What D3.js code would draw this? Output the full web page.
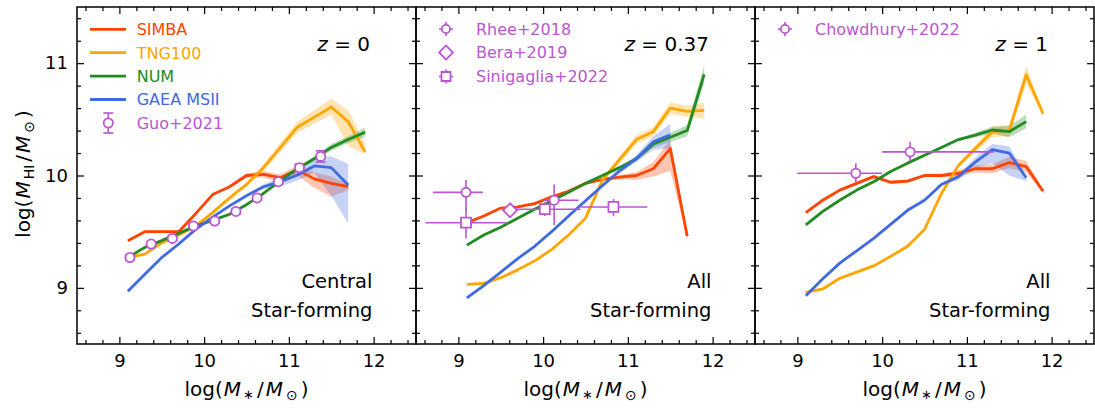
<!DOCTYPE html>
<html>
<head>
<meta charset="utf-8">
<script src="https://cdn.jsdelivr.net/npm/d3@7/dist/d3.min.js"></script>
<style>
html,body{margin:0;padding:0;background:#fff;}
svg{display:block;}
text{font-family:"DejaVu Sans",sans-serif;}
</style>
</head>
<body>
<svg id="chart" width="1095" height="408"></svg>
<script>
// ================= DATA =================
const logMstar = [9.1, 9.3, 9.5, 9.7, 9.9, 10.1, 10.3, 10.5, 10.7, 10.9, 11.1, 11.3, 11.5, 11.7, 11.9];
const xTicks = [9, 10, 11, 12];
const yTicks = [9, 10, 11];
const modelNames = ["SIMBA", "TNG100", "NUM", "GAEA MSII"];
const redshiftLabels = ["0", "0.37", "1"];
const sampleLabels = [["Central", "Star-forming"], ["All", "Star-forming"], ["All", "Star-forming"]];

// ---- z = 0 ----
const z0_simba    = [9.42, 9.50, 9.50, 9.50, 9.66, 9.83, 9.90, 10.00, 10.01, 9.98, 10.05, 9.97, 9.93, 9.90];
const z0_simba_lo = [0.01, 0.01, 0.01, 0.01, 0.01, 0.01, 0.01, 0.02, 0.03, 0.04, 0.05, 0.08, 0.12, 0.03];
const z0_simba_hi = [0.01, 0.01, 0.01, 0.01, 0.01, 0.01, 0.01, 0.02, 0.03, 0.03, 0.04, 0.06, 0.06, 0.02];
const z0_tng      = [9.27, 9.30, 9.40, 9.47, 9.55, 9.67, 9.80, 9.92, 10.07, 10.25, 10.43, 10.52, 10.61, 10.48, 10.21];
const z0_tng_lo   = [0.01, 0.01, 0.01, 0.01, 0.01, 0.01, 0.02, 0.02, 0.03, 0.04, 0.05, 0.06, 0.07, 0.22, 0.02];
const z0_tng_hi   = [0.01, 0.01, 0.01, 0.01, 0.01, 0.01, 0.02, 0.02, 0.03, 0.04, 0.05, 0.06, 0.07, 0.10, 0.07];
const z0_num      = [9.27, 9.36, 9.42, 9.485, 9.55, 9.60, 9.655, 9.74, 9.84, 9.955, 10.06, 10.15, 10.25, 10.32, 10.385];
const z0_num_lo   = [0.01, 0.01, 0.01, 0.01, 0.01, 0.01, 0.01, 0.01, 0.01, 0.01, 0.02, 0.02, 0.03, 0.03, 0.04];
const z0_num_hi   = [0.01, 0.01, 0.01, 0.01, 0.01, 0.01, 0.01, 0.01, 0.01, 0.01, 0.02, 0.02, 0.03, 0.03, 0.04];
const z0_gaea     = [8.97, 9.12, 9.27, 9.39, 9.52, 9.63, 9.73, 9.82, 9.90, 9.945, 10.005, 10.085, 10.07, 9.915];
const z0_gaea_lo  = [0.01, 0.01, 0.01, 0.01, 0.01, 0.01, 0.01, 0.01, 0.02, 0.04, 0.05, 0.06, 0.25, 0.34];
const z0_gaea_hi  = [0.01, 0.01, 0.01, 0.01, 0.01, 0.01, 0.01, 0.01, 0.02, 0.04, 0.06, 0.08, 0.10, 0.19];
// Guo+2021
const guo_x   = [9.125, 9.375, 9.625, 9.875, 10.125, 10.375, 10.625, 10.875, 11.125, 11.375];
const guo_y   = [9.27, 9.39, 9.44, 9.55, 9.595, 9.68, 9.80, 9.945, 10.07, 10.17];
const guo_err = [0.02, 0.02, 0.02, 0.02, 0.02, 0.02, 0.02, 0.02, 0.03, 0.05];

// ---- z = 0.37 ----
const z037_simba    = [9.58, 9.64, 9.71, 9.72, 9.75, 9.81, 9.86, 9.93, 9.965, 9.985, 10.00, 10.06, 10.24, 9.46];
const z037_simba_lo = [0.01, 0.01, 0.01, 0.01, 0.01, 0.01, 0.01, 0.01, 0.01, 0.02, 0.04, 0.07, 0.20, 0.02];
const z037_simba_hi = [0.01, 0.01, 0.01, 0.01, 0.01, 0.01, 0.01, 0.01, 0.01, 0.02, 0.03, 0.06, 0.08, 0.02];
const z037_tng      = [9.03, 9.04, 9.09, 9.16, 9.24, 9.34, 9.47, 9.62, 9.96, 10.14, 10.32, 10.39, 10.60, 10.57, 10.58];
const z037_tng_lo   = [0.01, 0.01, 0.01, 0.01, 0.01, 0.01, 0.01, 0.01, 0.02, 0.03, 0.04, 0.04, 0.05, 0.05, 0.07];
const z037_tng_hi   = [0.01, 0.01, 0.01, 0.01, 0.01, 0.01, 0.01, 0.01, 0.02, 0.03, 0.04, 0.04, 0.05, 0.05, 0.07];
const z037_num      = [9.38, 9.47, 9.54, 9.62, 9.70, 9.775, 9.85, 9.93, 10.00, 10.07, 10.15, 10.28, 10.34, 10.40, 10.90];
const z037_num_lo   = [0.01, 0.01, 0.01, 0.01, 0.01, 0.01, 0.01, 0.01, 0.01, 0.01, 0.02, 0.03, 0.04, 0.05, 0.08];
const z037_num_hi   = [0.01, 0.01, 0.01, 0.01, 0.01, 0.01, 0.01, 0.01, 0.01, 0.01, 0.02, 0.03, 0.04, 0.05, 0.08];
const z037_gaea     = [8.91, 9.02, 9.14, 9.26, 9.37, 9.50, 9.64, 9.775, 9.91, 10.04, 10.15, 10.30, 10.36];
const z037_gaea_lo  = [0.01, 0.01, 0.01, 0.01, 0.01, 0.01, 0.01, 0.01, 0.01, 0.02, 0.03, 0.07, 0.12];
const z037_gaea_hi  = [0.01, 0.01, 0.01, 0.01, 0.01, 0.01, 0.01, 0.01, 0.01, 0.02, 0.03, 0.05, 0.10];
// Rhee+2018
const rhee_x = [9.09, 10.13], rhee_y = [9.85, 9.78];
const rhee_xlo = [0.39, 0.13], rhee_xhi = [0.20, 0.29];
const rhee_ylo = [0.15, 0.22], rhee_yhi = [0.11, 0.14];
// Bera+2019
const bera_x = [9.61], bera_y = [9.69];
// Sinigaglia+2022
const sini_x = [9.09, 10.02, 10.83], sini_y = [9.58, 9.70, 9.72];
const sini_xlo = [0.48, 0.41, 0.39], sini_xhi = [0.48, 0.42, 0.40];
const sini_ylo = [0.14, 0.06, 0.08], sini_yhi = [0.13, 0.06, 0.07];

// ---- z = 1 ----
const z1_simba    = [9.67, 9.78, 9.87, 9.93, 9.99, 9.94, 9.95, 10.00, 10.00, 10.02, 10.06, 10.06, 10.115, 10.08, 9.86];
const z1_simba_lo = [0.015, 0.015, 0.015, 0.015, 0.015, 0.015, 0.015, 0.015, 0.015, 0.03, 0.03, 0.04, 0.05, 0.05, 0.02];
const z1_simba_hi = [0.015, 0.015, 0.015, 0.015, 0.015, 0.015, 0.015, 0.015, 0.015, 0.03, 0.03, 0.04, 0.05, 0.05, 0.02];
const z1_tng      = [8.96, 8.99, 9.085, 9.14, 9.195, 9.28, 9.37, 9.52, 9.84, 10.09, 10.24, 10.39, 10.40, 10.895, 10.55];
const z1_tng_lo   = [0.01, 0.01, 0.01, 0.01, 0.01, 0.01, 0.01, 0.01, 0.01, 0.02, 0.03, 0.05, 0.05, 0.08, 0.02];
const z1_tng_hi   = [0.01, 0.01, 0.01, 0.01, 0.01, 0.01, 0.01, 0.01, 0.01, 0.02, 0.03, 0.05, 0.05, 0.08, 0.02];
const z1_num      = [9.56, 9.68, 9.78, 9.87, 9.945, 10.035, 10.11, 10.18, 10.25, 10.32, 10.36, 10.405, 10.39, 10.48];
const z1_num_lo   = [0.01, 0.01, 0.01, 0.01, 0.01, 0.01, 0.01, 0.01, 0.01, 0.01, 0.02, 0.03, 0.05, 0.06];
const z1_num_hi   = [0.01, 0.01, 0.01, 0.01, 0.01, 0.01, 0.01, 0.01, 0.01, 0.01, 0.02, 0.03, 0.05, 0.06];
const z1_gaea     = [8.93, 9.08, 9.22, 9.33, 9.44, 9.565, 9.69, 9.78, 9.92, 9.99, 10.12, 10.23, 10.20, 9.98];
const z1_gaea_lo  = [0.01, 0.01, 0.01, 0.01, 0.01, 0.01, 0.01, 0.01, 0.01, 0.03, 0.05, 0.12, 0.20, 0.03];
const z1_gaea_hi  = [0.01, 0.01, 0.01, 0.01, 0.01, 0.01, 0.01, 0.01, 0.01, 0.02, 0.04, 0.05, 0.06, 0.02];
// Chowdhury+2022
const chow_x = [9.69, 10.33], chow_y = [10.02, 10.21];
const chow_xlo = [0.69, 0.33], chow_xhi = [0.31, 0.99];
const chow_ylo = [0.08, 0.08], chow_yhi = [0.09, 0.09];

// ================= LAYOUT / STYLE =================
const svg = d3.select("#chart");
const panelLefts = [77, 416, 755];
const panelW = 339, plotTop = 7, plotBottom = 344;
const modelColors = ["#ff4500", "#ffa500", "#228b22", "#4169e1"];
const obsColor = "#ba55d3";
const FONT = "DejaVu Sans";

const y = d3.scaleLinear().domain([8.5, 11.5]).range([plotBottom, plotTop]);
const minorX = d3.range(43, 63).filter(i => i % 5 !== 0).map(i => i / 5);
const minorY = d3.range(43, 58).filter(i => i % 5 !== 0).map(i => i / 5);

const panelModels = [
  [[z0_simba, z0_simba_lo, z0_simba_hi], [z0_tng, z0_tng_lo, z0_tng_hi], [z0_num, z0_num_lo, z0_num_hi], [z0_gaea, z0_gaea_lo, z0_gaea_hi]],
  [[z037_simba, z037_simba_lo, z037_simba_hi], [z037_tng, z037_tng_lo, z037_tng_hi], [z037_num, z037_num_lo, z037_num_hi], [z037_gaea, z037_gaea_lo, z037_gaea_hi]],
  [[z1_simba, z1_simba_lo, z1_simba_hi], [z1_tng, z1_tng_lo, z1_tng_hi], [z1_num, z1_num_lo, z1_num_hi], [z1_gaea, z1_gaea_lo, z1_gaea_hi]]
];

function styleAxis(g, fs) {
  g.select(".domain").remove();
  g.attr("font-family", FONT).attr("font-size", fs);
  g.selectAll("line").attr("stroke", "#000").attr("stroke-width", 1.2);
  g.selectAll("text").attr("fill", "#000");
}

function errBars(g, x, xs, ys, xlo, xhi, ylo, yhi, cap) {
  xs.forEach((xv, i) => {
    if (xlo) g.append("line").attr("x1", x(xv - xlo[i])).attr("x2", x(xv + xhi[i]))
      .attr("y1", y(ys[i])).attr("y2", y(ys[i]));
    if (ylo) {
      g.append("line").attr("x1", x(xv)).attr("x2", x(xv))
        .attr("y1", y(ys[i] - ylo[i])).attr("y2", y(ys[i] + yhi[i]));
      if (cap) {
        [ys[i] - ylo[i], ys[i] + yhi[i]].forEach(v => {
          g.append("line").attr("x1", x(xv) - 5).attr("x2", x(xv) + 5).attr("y1", y(v)).attr("y2", y(v));
        });
      }
    }
  });
}

function marker(g, type, cx, cy, scale) {
  const s = scale || 1;
  if (type === "circle") {
    g.append("circle").attr("cx", cx).attr("cy", cy).attr("r", 4.6 * s)
      .attr("fill", "#fff").attr("stroke", obsColor).attr("stroke-width", 1.8);
  } else if (type === "square") {
    g.append("path").attr("d", d3.symbol(d3.symbolSquare, 100 * s * s)())
      .attr("transform", `translate(${cx},${cy})`)
      .attr("fill", "#fff").attr("stroke", obsColor).attr("stroke-width", 1.8);
  } else if (type === "diamond") {
    g.append("path").attr("d", d3.symbol(d3.symbolSquare, 96 * s * s)())
      .attr("transform", `translate(${cx},${cy}) rotate(45)`)
      .attr("fill", "#fff").attr("stroke", obsColor).attr("stroke-width", 1.8);
  }
}

function legendObs(g, type, cx, cy, label, opts) {
  const e = g.append("g").attr("stroke", obsColor).attr("stroke-width", 1.6);
  if (opts.h) e.append("line").attr("x1", cx - 7).attr("x2", cx + 7).attr("y1", cy).attr("y2", cy);
  if (opts.v) e.append("line").attr("x1", cx).attr("x2", cx).attr("y1", cy - opts.v).attr("y2", cy + opts.v);
  if (opts.cap) {
    [cy - opts.v, cy + opts.v].forEach(yy => e.append("line").attr("x1", cx - 5).attr("x2", cx + 5).attr("y1", yy).attr("y2", yy));
  }
  marker(g, type, cx, cy, opts.scale);
  g.append("text").attr("x", opts.tx).attr("y", cy + 5.8).attr("fill", obsColor)
    .attr("font-size", 16).text(label);
}

// ================= DRAW PANELS =================
panelLefts.forEach((L, p) => {
  const x = d3.scaleLinear().domain([8.5, 12.5]).range([L, L + panelW]);
  const g = svg.append("g");
  const clipId = "clip" + p;
  svg.append("clipPath").attr("id", clipId).append("rect")
    .attr("x", L).attr("y", plotTop).attr("width", panelW).attr("height", plotBottom - plotTop);
  const plot = g.append("g").attr("clip-path", `url(#${clipId})`);

  // bands
  panelModels[p].forEach(([ys, lo, hi], k) => {
    const pts = ys.map((v, i) => ({ m: logMstar[i], lo: v - lo[i], hi: v + hi[i] }));
    plot.append("path").datum(pts)
      .attr("d", d3.area().x(d => x(d.m)).y0(d => y(d.lo)).y1(d => y(d.hi)))
      .attr("fill", modelColors[k]).attr("fill-opacity", 0.3).attr("stroke", "none");
  });
  // lines
  panelModels[p].forEach(([ys], k) => {
    const pts = ys.map((v, i) => ({ m: logMstar[i], v }));
    plot.append("path").datum(pts)
      .attr("d", d3.line().x(d => x(d.m)).y(d => y(d.v)))
      .attr("fill", "none").attr("stroke", modelColors[k]).attr("stroke-width", 2.8)
      .attr("stroke-linejoin", "round").attr("stroke-linecap", "butt");
  });

  // observations
  const obs = plot.append("g");
  const eb = obs.append("g").attr("stroke", obsColor).attr("stroke-width", 1.6);
  if (p === 0) {
    errBars(eb, x, guo_x, guo_y, null, null, guo_err, guo_err, true);
    guo_x.forEach((xv, i) => marker(obs, "circle", x(xv), y(guo_y[i])));
  } else if (p === 1) {
    errBars(eb, x, sini_x, sini_y, sini_xlo, sini_xhi, sini_ylo, sini_yhi, false);
    errBars(eb, x, rhee_x, rhee_y, rhee_xlo, rhee_xhi, rhee_ylo, rhee_yhi, false);
    sini_x.forEach((xv, i) => marker(obs, "square", x(xv), y(sini_y[i])));
    rhee_x.forEach((xv, i) => marker(obs, "circle", x(xv), y(rhee_y[i])));
    bera_x.forEach((xv, i) => marker(obs, "diamond", x(xv), y(bera_y[i])));
  } else {
    errBars(eb, x, chow_x, chow_y, chow_xlo, chow_xhi, chow_ylo, chow_yhi, false);
    chow_x.forEach((xv, i) => marker(obs, "circle", x(xv), y(chow_y[i])));
  }

  // axes (ticks inward on all sides)
  const ax = g.append("g");
  ax.append("g").attr("transform", `translate(0,${plotBottom})`)
    .call(d3.axisBottom(x).tickValues(xTicks).tickSize(-7).tickPadding(10).tickFormat(d3.format("d")))
    .call(s => styleAxis(s, 18));
  ax.append("g").attr("transform", `translate(0,${plotBottom})`)
    .call(d3.axisBottom(x).tickValues(minorX).tickSize(-4).tickFormat(""))
    .call(s => styleAxis(s, 18));
  ax.append("g").attr("transform", `translate(0,${plotTop})`)
    .call(d3.axisTop(x).tickValues(xTicks).tickSize(-7).tickFormat(""))
    .call(s => styleAxis(s, 18));
  ax.append("g").attr("transform", `translate(0,${plotTop})`)
    .call(d3.axisTop(x).tickValues(minorX).tickSize(-4).tickFormat(""))
    .call(s => styleAxis(s, 18));
  ax.append("g").attr("transform", `translate(${L},0)`)
    .call(d3.axisLeft(y).tickValues(yTicks).tickSize(-7).tickPadding(9).tickFormat(p === 0 ? d3.format("d") : ""))
    .call(s => styleAxis(s, 18));
  ax.append("g").attr("transform", `translate(${L},0)`)
    .call(d3.axisLeft(y).tickValues(minorY).tickSize(-4).tickFormat(""))
    .call(s => styleAxis(s, 18));
  ax.append("g").attr("transform", `translate(${L + panelW},0)`)
    .call(d3.axisRight(y).tickValues(yTicks).tickSize(-7).tickFormat(""))
    .call(s => styleAxis(s, 18));
  ax.append("g").attr("transform", `translate(${L + panelW},0)`)
    .call(d3.axisRight(y).tickValues(minorY).tickSize(-4).tickFormat(""))
    .call(s => styleAxis(s, 18));

  g.append("rect").attr("x", L).attr("y", plotTop).attr("width", panelW).attr("height", plotBottom - plotTop)
    .attr("fill", "none").attr("stroke", "#000").attr("stroke-width", 1.5);

  // redshift label
  const zt = g.append("text").attr("x", L + 293).attr("y", 50.5).attr("text-anchor", "end")
    .attr("font-size", 20).attr("fill", "#000");
  zt.append("tspan").attr("font-style", "italic").text("z");
  zt.append("tspan").text(" = " + redshiftLabels[p]);

  // sample label
  sampleLabels[p].forEach((t, j) => {
    g.append("text").attr("x", L + 295.5).attr("y", 288.3 + j * 28.2).attr("text-anchor", "end")
      .attr("font-size", 19.5).attr("fill", "#000").text(t);
  });

  // x label
  const xl = g.append("text").attr("x", L + panelW / 2).attr("y", 396).attr("text-anchor", "middle")
    .attr("font-size", 20).attr("fill", "#000");
  xl.append("tspan").text("log(");
  xl.append("tspan").attr("font-style", "italic").attr("dx", 1).text("M");
  xl.append("tspan").attr("font-size", 13).attr("dy", 3).attr("dx", 2).text("\u2217");
  xl.append("tspan").attr("dy", -3).attr("dx", 3).text("/");
  xl.append("tspan").attr("font-style", "italic").attr("dx", 2).text("M");
  xl.append("tspan").attr("font-size", 14).attr("dy", 4).attr("dx", 3).text("\u2299");
  xl.append("tspan").attr("dy", -4).attr("dx", 3).text(")");

  // legends
  const lg = g.append("g");
  if (p === 0) {
    modelNames.forEach((name, k) => {
      const ly = 29.3 + k * 23.4;
      lg.append("line").attr("x1", 90).attr("x2", 126).attr("y1", ly).attr("y2", ly)
        .attr("stroke", modelColors[k]).attr("stroke-width", 2.8);
      lg.append("text").attr("x", 136.7).attr("y", ly + 5.8).attr("fill", modelColors[k])
        .attr("font-size", 16).text(name);
    });
    legendObs(lg, "circle", 108.3, 123, "Guo+2021", { v: 10, cap: true, tx: 136.7 });
  } else if (p === 1) {
    legendObs(lg, "circle", 446, 29, "Rhee+2018", { h: true, v: 7, tx: 476, scale: 0.9 });
    legendObs(lg, "diamond", 446, 52.5, "Bera+2019", { tx: 476 });
    legendObs(lg, "square", 446, 76.5, "Sinigaglia+2022", { h: true, v: 7, tx: 476, scale: 0.9 });
  } else {
    legendObs(lg, "circle", 785, 29, "Chowdhury+2022", { h: true, v: 7, tx: 815, scale: 0.9 });
  }
});

// y label
const yl = svg.append("text").attr("transform", "translate(30,174) rotate(-90)")
  .attr("text-anchor", "middle").attr("font-size", 20).attr("fill", "#000");
yl.append("tspan").text("log(");
yl.append("tspan").attr("font-style", "italic").attr("dx", 1).text("M");
yl.append("tspan").attr("font-size", 14).attr("dy", 4).attr("dx", 2).text("HI");
yl.append("tspan").attr("dy", -4).attr("dx", 3).text("/");
yl.append("tspan").attr("font-style", "italic").attr("dx", 2).text("M");
yl.append("tspan").attr("font-size", 14).attr("dy", 4).attr("dx", 3).text("\u2299");
yl.append("tspan").attr("dy", -4).attr("dx", 3).text(")");
</script>
</body>
</html>
